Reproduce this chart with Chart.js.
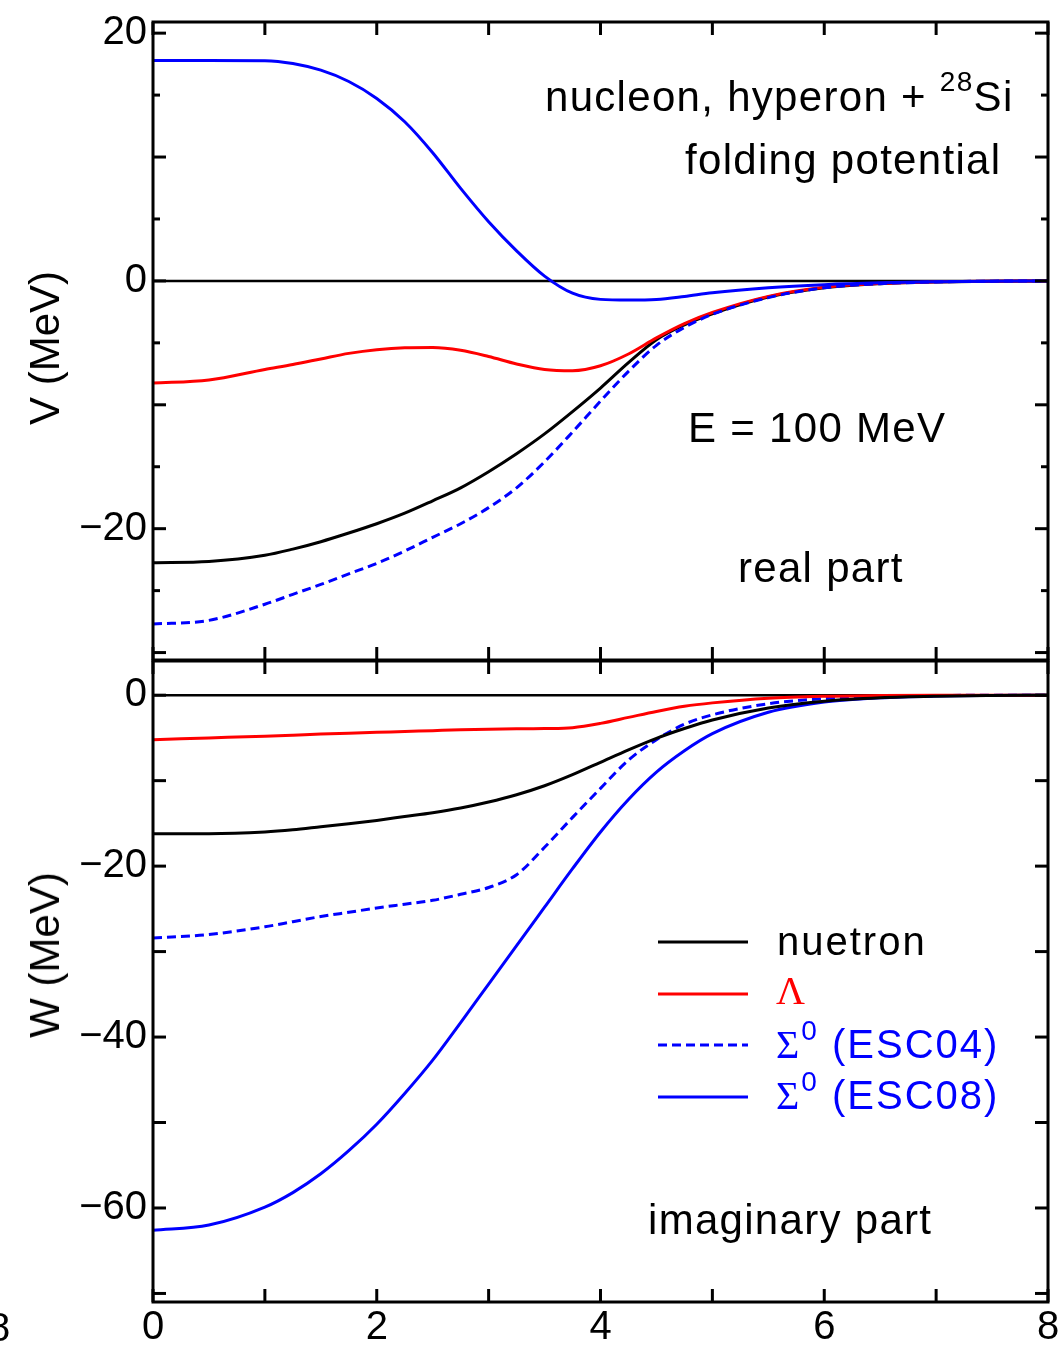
<!DOCTYPE html>
<html>
<head>
<meta charset="utf-8">
<script src="https://cdn.jsdelivr.net/npm/chart.js@4.4.0/dist/chart.umd.min.js"></script>
<style>
  body { margin: 0; background: #fff; width: 1064px; height: 1351px; position: relative; overflow: hidden;
         font-family: 'Liberation Sans', Arial, Helvetica, sans-serif; color: #000; }
  canvas { position: absolute; left: 0; }
  #topCanvas { top: 0; }
  #botCanvas { top: 640px; }
  .note { position: absolute; font-size: 42px; line-height: 1; white-space: nowrap; letter-spacing: 1.3px; }
  .leg { position: absolute; font-size: 40px; line-height: 1; white-space: nowrap; letter-spacing: 2px; }
  .ytitle { position: absolute; font-size: 42px; line-height: 1; white-space: nowrap;
            transform: translate(-50%, -50%) rotate(-90deg); }
  .greek { font-family: 'Liberation Serif', 'Times New Roman', serif; }
  .sup { font-size: 28px; position: relative; top: -20px; }
</style>
</head>
<body>
<canvas id="topCanvas" width="1064" height="680"></canvas>
<canvas id="botCanvas" width="1064" height="711"></canvas>

<div class="ytitle" style="left:45px; top:348px;">V (MeV)</div>
<div class="ytitle" style="left:45px; top:955px;">W (MeV)</div>

<div class="note" style="left:545px; top:76px;">nucleon, hyperon + <span class="sup">28</span>Si</div>
<div class="note" style="left:685px; top:139px;">folding potential</div>
<div class="note" style="left:688px; top:407px;">E = 100 MeV</div>
<div class="note" style="left:738px; top:547px;">real part</div>
<div class="note" style="left:648px; top:1199px;">imaginary part</div>

<div class="leg" style="left:777px; top:921px;">nuetron</div>
<div class="leg greek" style="left:776px; top:971px; color:#f00;">&Lambda;</div>
<div class="leg" style="left:776px; top:1024px; color:#00f;"><span class="greek">&Sigma;</span><span class="sup" style="top:-18px">0</span> (ESC04)</div>
<div class="leg" style="left:776px; top:1075px; color:#00f;"><span class="greek">&Sigma;</span><span class="sup" style="top:-18px">0</span> (ESC08)</div>

<div class="note" style="left:-12px; top:1307px; font-size:40px;">8</div>

<script>
const r = [0, 0.5, 1, 1.25, 1.5, 1.75, 2, 2.25, 2.5, 2.75, 3, 3.25, 3.5, 3.75, 4, 4.25, 4.5, 4.75, 5, 5.5, 6, 6.5, 7, 7.5, 8];

// real part V (MeV)
const vNeutron = [-22.75, -22.65, -22.15, -21.65, -21.05, -20.35, -19.6, -18.75, -17.75, -16.7, -15.4, -13.95, -12.35, -10.55, -8.65, -6.6, -4.75, -3.55, -2.65, -1.3, -0.55, -0.22, -0.08, -0.02, 0];
const vLambda = [-8.25, -8.0, -7.15, -6.75, -6.3, -5.85, -5.55, -5.4, -5.38, -5.6, -6.1, -6.7, -7.15, -7.25, -6.85, -5.9, -4.6, -3.45, -2.55, -1.25, -0.52, -0.2, -0.07, -0.02, 0];
const vSigma04 = [-27.7, -27.4, -26.1, -25.3, -24.5, -23.65, -22.8, -21.8, -20.7, -19.6, -18.3, -16.7, -14.6, -12.2, -9.7, -7.3, -5.2, -3.75, -2.7, -1.35, -0.55, -0.22, -0.08, -0.02, 0];
const vSigma08 = [17.8, 17.8, 17.78, 17.55, 17.01, 16.1, 14.73, 12.85, 10.35, 7.47, 4.78, 2.43, 0.39, -0.99, -1.49, -1.55, -1.5, -1.25, -0.95, -0.55, -0.3, -0.15, -0.07, -0.02, 0];

// imaginary part W (MeV)
const wNeutron = [-16.2, -16.2, -16.0, -15.75, -15.4, -15.05, -14.65, -14.2, -13.75, -13.2, -12.5, -11.65, -10.6, -9.3, -7.85, -6.4, -5.05, -3.9, -2.9, -1.5, -0.7, -0.3, -0.12, -0.04, 0];
const wLambda = [-5.2, -5.0, -4.8, -4.68, -4.55, -4.45, -4.35, -4.25, -4.15, -4.05, -3.98, -3.93, -3.9, -3.8, -3.3, -2.6, -1.9, -1.3, -0.9, -0.35, -0.12, -0.04, 0, 0, 0];
const wSigma04 = [-28.4, -28.0, -27.1, -26.5, -25.9, -25.4, -24.9, -24.45, -24.0, -23.3, -22.5, -21.0, -17.8, -14.3, -10.9, -7.6, -5.2, -3.4, -2.3, -1.0, -0.4, -0.15, -0.05, 0, 0];
const wSigma08 = [-62.6, -62.0, -59.9, -58.2, -56.0, -53.3, -50.2, -46.6, -42.7, -38.3, -33.8, -29.3, -24.8, -20.3, -16.0, -12.2, -9.0, -6.5, -4.5, -2.0, -0.8, -0.3, -0.1, -0.03, 0];

// tick labels
const xLabels = [0, 2, 4, 6, 8];
const vLabels = [-20, 0, 20];
const wLabels = [-60, -40, -20, 0];

const tickFont = { family: "'Liberation Sans', Arial, Helvetica, sans-serif", size: 40 };

function pts(ys) {
    return r.map((x, i) => ({ x: x, y: ys[i] }));
}

function fmt(v) {
    return v < 0 ? '\u2212' + Math.abs(v) : String(v);
}

function line(label, ys, color, dashed) {
    return {
        label: label,
        data: pts(ys),
        borderColor: color,
        borderWidth: 3,
        borderDash: dashed ? [9, 5] : [],
        pointRadius: 0,
        cubicInterpolationMode: 'monotone',
        fill: false
    };
}

// zero line behind the curves
const zeroPlugin = {
    id: 'zeroLine',
    beforeDatasetsDraw(chart) {
        const ctx = chart.ctx;
        const a = chart.chartArea;
        const py = chart.scales.y.getPixelForValue(0);
        ctx.save();
        ctx.strokeStyle = '#000';
        ctx.lineWidth = 2.5;
        ctx.beginPath();
        ctx.moveTo(a.left, py);
        ctx.lineTo(a.right, py);
        ctx.stroke();
        ctx.restore();
    }
};

// box round the plot with inward ticks on all four sides
const framePlugin = {
    id: 'frame',
    afterDatasetsDraw(chart, args, opts) {
        const ctx = chart.ctx;
        const a = chart.chartArea;
        const xs = chart.scales.x;
        const ys = chart.scales.y;
        ctx.save();
        ctx.strokeStyle = '#000';
        ctx.lineWidth = 3;
        xs.ticks.forEach(t => {
            const px = xs.getPixelForValue(t.value);
            ctx.beginPath();
            ctx.moveTo(px, a.top); ctx.lineTo(px, a.top + 13);
            ctx.stroke();
            ctx.beginPath();
            ctx.moveTo(px, a.bottom); ctx.lineTo(px, a.bottom - 13);
            ctx.stroke();
        });
        ys.ticks.forEach(t => {
            const py = ys.getPixelForValue(t.value);
            const len = t.value % opts.longEvery === 0 ? 13 : 7;
            ctx.beginPath();
            ctx.moveTo(a.left, py); ctx.lineTo(a.left + len, py);
            ctx.stroke();
            ctx.beginPath();
            ctx.moveTo(a.right, py); ctx.lineTo(a.right - len, py);
            ctx.stroke();
        });
        ctx.strokeRect(a.left, a.top, a.right - a.left, a.bottom - a.top);
        ctx.restore();
    }
};

// legend samples drawn from the dataset styles
const legendPlugin = {
    id: 'legendLines',
    afterDatasetsDraw(chart, args, opts) {
        if (!opts.rows) return;
        const ctx = chart.ctx;
        ctx.save();
        opts.rows.forEach(row => {
            const ds = chart.data.datasets[row.ds];
            ctx.strokeStyle = ds.borderColor;
            ctx.lineWidth = 3;
            ctx.setLineDash(ds.borderDash);
            ctx.beginPath();
            ctx.moveTo(opts.x0, row.y);
            ctx.lineTo(opts.x1, row.y);
            ctx.stroke();
        });
        ctx.restore();
    }
};

const topChart = new Chart(document.getElementById('topCanvas'), {
    type: 'line',
    data: {
        datasets: [
            line('Sigma0 (ESC08)', vSigma08, '#0000ff', false),
            line('Sigma0 (ESC04)', vSigma04, '#0000ff', true),
            line('Lambda', vLambda, '#ff0000', false),
            line('nuetron', vNeutron, '#000000', false)
        ]
    },
    options: {
        responsive: false,
        animation: false,
        layout: { padding: { top: 22, right: 16, bottom: 20, left: 0 } },
        plugins: {
            legend: { display: false },
            tooltip: { enabled: false },
            frame: { longEvery: 10 }
        },
        scales: {
            x: {
                type: 'linear', min: 0, max: 8,
                ticks: { display: false, stepSize: 1 },
                grid: { display: false, drawTicks: false },
                border: { display: false },
                afterFit: s => { s.height = 0; s.paddingLeft = 0; s.paddingRight = 0; }
            },
            y: {
                type: 'linear', min: -30.6, max: 20.9,
                ticks: {
                    stepSize: 5, includeBounds: false, padding: 6,
                    color: '#000', font: tickFont,
                    callback: v => vLabels.includes(v) ? fmt(v) : ''
                },
                grid: { display: false, drawTicks: false },
                border: { display: false },
                afterFit: s => { s.width = 153; s.paddingTop = 0; s.paddingBottom = 0; }
            }
        }
    },
    plugins: [zeroPlugin, framePlugin]
});

const botChart = new Chart(document.getElementById('botCanvas'), {
    type: 'line',
    data: {
        datasets: [
            line('nuetron', wNeutron, '#000000', false),
            line('Lambda', wLambda, '#ff0000', false),
            line('Sigma0 (ESC04)', wSigma04, '#0000ff', true),
            line('Sigma0 (ESC08)', wSigma08, '#0000ff', false)
        ]
    },
    options: {
        responsive: false,
        animation: false,
        layout: { padding: { top: 21, right: 16, bottom: 0, left: 0 } },
        plugins: {
            legend: { display: false },
            tooltip: { enabled: false },
            frame: { longEvery: 10 },
            legendLines: {
                x0: 658, x1: 748,
                rows: [
                    { ds: 0, y: 302 },
                    { ds: 1, y: 354 },
                    { ds: 2, y: 405 },
                    { ds: 3, y: 457 }
                ]
            }
        },
        scales: {
            x: {
                type: 'linear', min: 0, max: 8,
                ticks: {
                    stepSize: 1, padding: 2, autoSkip: false, maxRotation: 0,
                    color: '#000', font: tickFont,
                    callback: v => xLabels.includes(v) ? String(v) : ''
                },
                grid: { display: false, drawTicks: false },
                border: { display: false },
                afterFit: s => { s.height = 49; s.paddingLeft = 0; s.paddingRight = 0; }
            },
            y: {
                type: 'linear', min: -71, max: 4,
                ticks: {
                    stepSize: 10, includeBounds: false, padding: 6,
                    color: '#000', font: tickFont,
                    callback: v => wLabels.includes(v) ? fmt(v) : ''
                },
                grid: { display: false, drawTicks: false },
                border: { display: false },
                afterFit: s => { s.width = 153; s.paddingTop = 0; s.paddingBottom = 0; }
            }
        }
    },
    plugins: [zeroPlugin, framePlugin, legendPlugin]
});
</script>
</body>
</html>
